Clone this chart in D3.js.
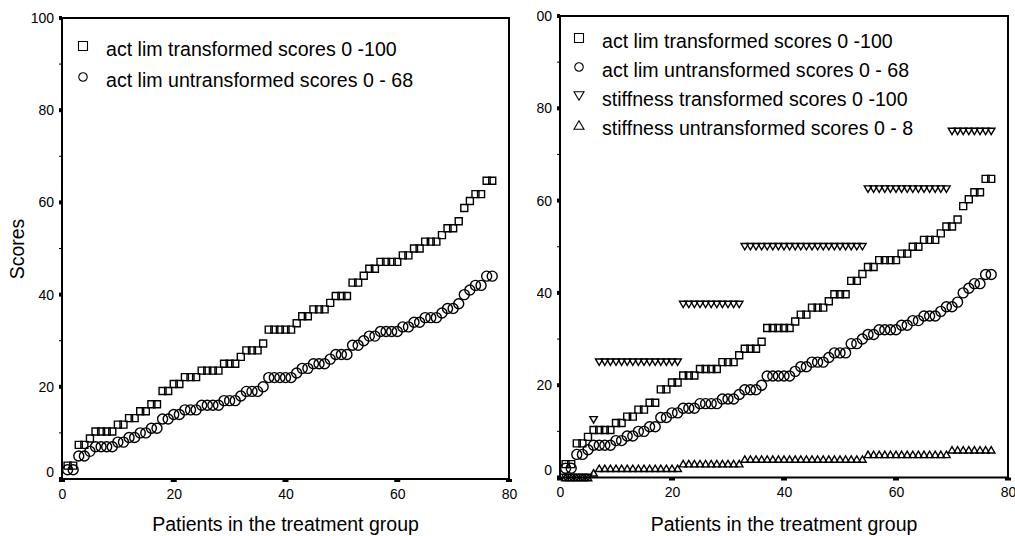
<!DOCTYPE html>
<html>
<head>
<meta charset="utf-8">
<script src="https://cdn.jsdelivr.net/npm/d3@7"></script>
<style>
body { margin: 0; background: #fff; }
svg text { font-family: Arial, "Liberation Sans", sans-serif; fill: #000; }
</style>
</head>
<body>
<svg id="chart" width="1015" height="536"></svg>
<script>
// one value per patient (patient 1..77), already sorted
const actLimTransformed = [
    2.9, 2.9, 7.4, 7.4, 8.8, 10.3, 10.3, 10.3, 10.3, 11.8,
    11.8, 13.2, 13.2, 14.7, 14.7, 16.2, 16.2, 19.1, 19.1, 20.6,
    20.6, 22.1, 22.1, 22.1, 23.5, 23.5, 23.5, 23.5, 25.0, 25.0,
    25.0, 26.5, 27.9, 27.9, 27.9, 29.4, 32.4, 32.4, 32.4, 32.4,
    32.4, 33.8, 35.3, 35.3, 36.8, 36.8, 36.8, 38.2, 39.7, 39.7,
    39.7, 42.6, 42.6, 44.1, 45.6, 45.6, 47.1, 47.1, 47.1, 47.1,
    48.5, 48.5, 50.0, 50.0, 51.5, 51.5, 51.5, 52.9, 54.4, 54.4,
    55.9, 58.8, 60.3, 61.8, 61.8, 64.7, 64.7
];
const actLimUntransformed = [
    2, 2, 5, 5, 6, 7, 7, 7, 7, 8,
    8, 9, 9, 10, 10, 11, 11, 13, 13, 14,
    14, 15, 15, 15, 16, 16, 16, 16, 17, 17,
    17, 18, 19, 19, 19, 20, 22, 22, 22, 22,
    22, 23, 24, 24, 25, 25, 25, 26, 27, 27,
    27, 29, 29, 30, 31, 31, 32, 32, 32, 32,
    33, 33, 34, 34, 35, 35, 35, 36, 37, 37,
    38, 40, 41, 42, 42, 44, 44
];
const stiffnessTransformed = [
    0, 0, 0, 0, 0, 12.5, 25, 25, 25, 25,
    25, 25, 25, 25, 25, 25, 25, 25, 25, 25,
    25, 37.5, 37.5, 37.5, 37.5, 37.5, 37.5, 37.5, 37.5, 37.5,
    37.5, 37.5, 50, 50, 50, 50, 50, 50, 50, 50,
    50, 50, 50, 50, 50, 50, 50, 50, 50, 50,
    50, 50, 50, 50, 62.5, 62.5, 62.5, 62.5, 62.5, 62.5,
    62.5, 62.5, 62.5, 62.5, 62.5, 62.5, 62.5, 62.5, 62.5, 75,
    75, 75, 75, 75, 75, 75, 75
];
const stiffnessUntransformed = [
    0, 0, 0, 0, 0, 1, 2, 2, 2, 2,
    2, 2, 2, 2, 2, 2, 2, 2, 2, 2,
    2, 3, 3, 3, 3, 3, 3, 3, 3, 3,
    3, 3, 4, 4, 4, 4, 4, 4, 4, 4,
    4, 4, 4, 4, 4, 4, 4, 4, 4, 4,
    4, 4, 4, 4, 5, 5, 5, 5, 5, 5,
    5, 5, 5, 5, 5, 5, 5, 5, 5, 6,
    6, 6, 6, 6, 6, 6, 6
];

const xTicks = [0, 20, 40, 60, 80];
const yTicks = [0, 20, 40, 60, 80, 100];
const yMinorTicks = [10, 30, 50, 70, 90];
const xTitle = "Patients in the treatment group";
const yTitle = "Scores";

const seriesNames = [
    "act lim transformed scores 0 -100",
    "act lim untransformed scores 0 - 68",
    "stiffness transformed scores 0 -100",
    "stiffness untransformed scores 0 - 8"
];
const seriesShapes = ["square", "circle", "down", "up"];
const seriesValues = [actLimTransformed, actLimUntransformed, stiffnessTransformed, stiffnessUntransformed];

const svg = d3.select("#chart");

// marker path, centred on 0,0
function markerPath(shape, s){
    if(shape == "square"){
        return `M${-s/2},${-s/2}h${s}v${s}h${-s}Z`;
    }
    if(shape == "circle"){
        const r = s/2;
        return `M${r},0A${r},${r} 0 1,1 ${-r},0A${r},${r} 0 1,1 ${r},0Z`;
    }
    const h = s*0.85;
    if(shape == "down"){
        return `M${-s/2},${-h/2}L${s/2},${-h/2}L0,${h/2}Z`;
    }
    return `M${-s/2},${h/2}L${s/2},${h/2}L0,${-h/2}Z`;
}
const markerSize = {square: 7, circle: 10, down: 7.5, up: 7.5};
const legendSize = {square: 9, circle: 8.5, down: 10, up: 10};

function drawPanel(p){
    let g = svg.append("g");
    if(p.clipLeft){
        svg.append("clipPath").attr("id", "clip" + p.id)
            .append("rect").attr("x", p.clipLeft).attr("y", 0)
            .attr("width", 1015 - p.clipLeft).attr("height", 536);
        g.attr("clip-path", `url(#clip${p.id})`);
    }

    const x = d3.scaleLinear().domain([0, 80]).range([p.left, p.right]);
    const y = d3.scaleLinear().domain([0, 100]).range([p.bottom, p.top]);

    // box round the plot
    g.append("rect")
        .attr("x", p.left).attr("y", p.top)
        .attr("width", p.right - p.left).attr("height", p.bottom - p.top)
        .attr("fill", "none").attr("stroke", "#000").attr("stroke-width", 2);

    // y axis labels
    const yAxis = g.append("g")
        .attr("transform", `translate(${p.left},0)`)
        .call(d3.axisLeft(y).tickValues(yTicks).tickSize(0).tickPadding(8));
    yAxis.select(".domain").remove();
    yAxis.selectAll("text").style("font-size", "14px")
        .attr("dy", d => d == 0 ? "-0.18em" : "0.32em");

    // thick major ticks, thin minor ones
    g.selectAll(".ymajor").data(yTicks).join("rect")
        .attr("x", p.left - 3).attr("y", d => y(d) - 2)
        .attr("width", 3).attr("height", 4).attr("fill", "#000");
    g.selectAll(".yminor").data(yMinorTicks).join("line")
        .attr("x1", p.left - 3).attr("x2", p.left)
        .attr("y1", d => y(d)).attr("y2", d => y(d))
        .attr("stroke", "#000").attr("stroke-width", 1);

    // x axis labels
    const xAxis = g.append("g")
        .attr("transform", `translate(0,${p.bottom})`)
        .call(d3.axisBottom(x).tickValues(xTicks).tickSize(0).tickPadding(10));
    xAxis.select(".domain").remove();
    xAxis.selectAll("text").style("font-size", "14px");
    g.selectAll(".xmajor").data(xTicks).join("rect")
        .attr("x", d => x(d) - 3).attr("y", p.bottom)
        .attr("width", 6).attr("height", 3).attr("fill", "#000");

    // titles
    g.append("text")
        .attr("x", (p.left + p.right)/2).attr("y", 531)
        .attr("text-anchor", "middle").style("font-size", "19.5px")
        .text(xTitle);
    if(p.yTitle){
        g.append("text")
            .attr("transform", `translate(24,249) rotate(-90)`)
            .attr("text-anchor", "middle").style("font-size", "19.5px")
            .text(yTitle);
    }

    // points, one series at a time
    for(let s = 0; s < p.series; s++){
        const shape = seriesShapes[s];
        g.append("g").selectAll("path")
            .data(seriesValues[s])
            .join("path")
            .attr("transform", (d, i) => `translate(${x(i + 1)},${y(d)})`)
            .attr("d", markerPath(shape, markerSize[shape]))
            .attr("fill", "none").attr("stroke", "#000").attr("stroke-width", 1.4);
    }

    // legend
    for(let s = 0; s < p.series; s++){
        const shape = seriesShapes[s];
        const ly = p.legendTop + s*p.legendStep;
        g.append("path")
            .attr("transform", `translate(${p.legendX},${ly})`)
            .attr("d", markerPath(shape, legendSize[shape]))
            .attr("fill", "none").attr("stroke", "#000").attr("stroke-width", 1.1);
        g.append("text")
            .attr("x", p.legendX + 23).attr("y", ly + 10)
            .style("font-size", "19.6px")
            .text(seriesNames[s]);
    }
}

drawPanel({id: "a", left: 62, right: 509, top: 18, bottom: 479, series: 2, yTitle: true,
    legendX: 83, legendTop: 46, legendStep: 31});
drawPanel({id: "b", left: 560, right: 1008, top: 16, bottom: 477.5, series: 4, yTitle: false,
    clipLeft: 537, legendX: 579, legendTop: 38, legendStep: 29});
</script>
</body>
</html>
